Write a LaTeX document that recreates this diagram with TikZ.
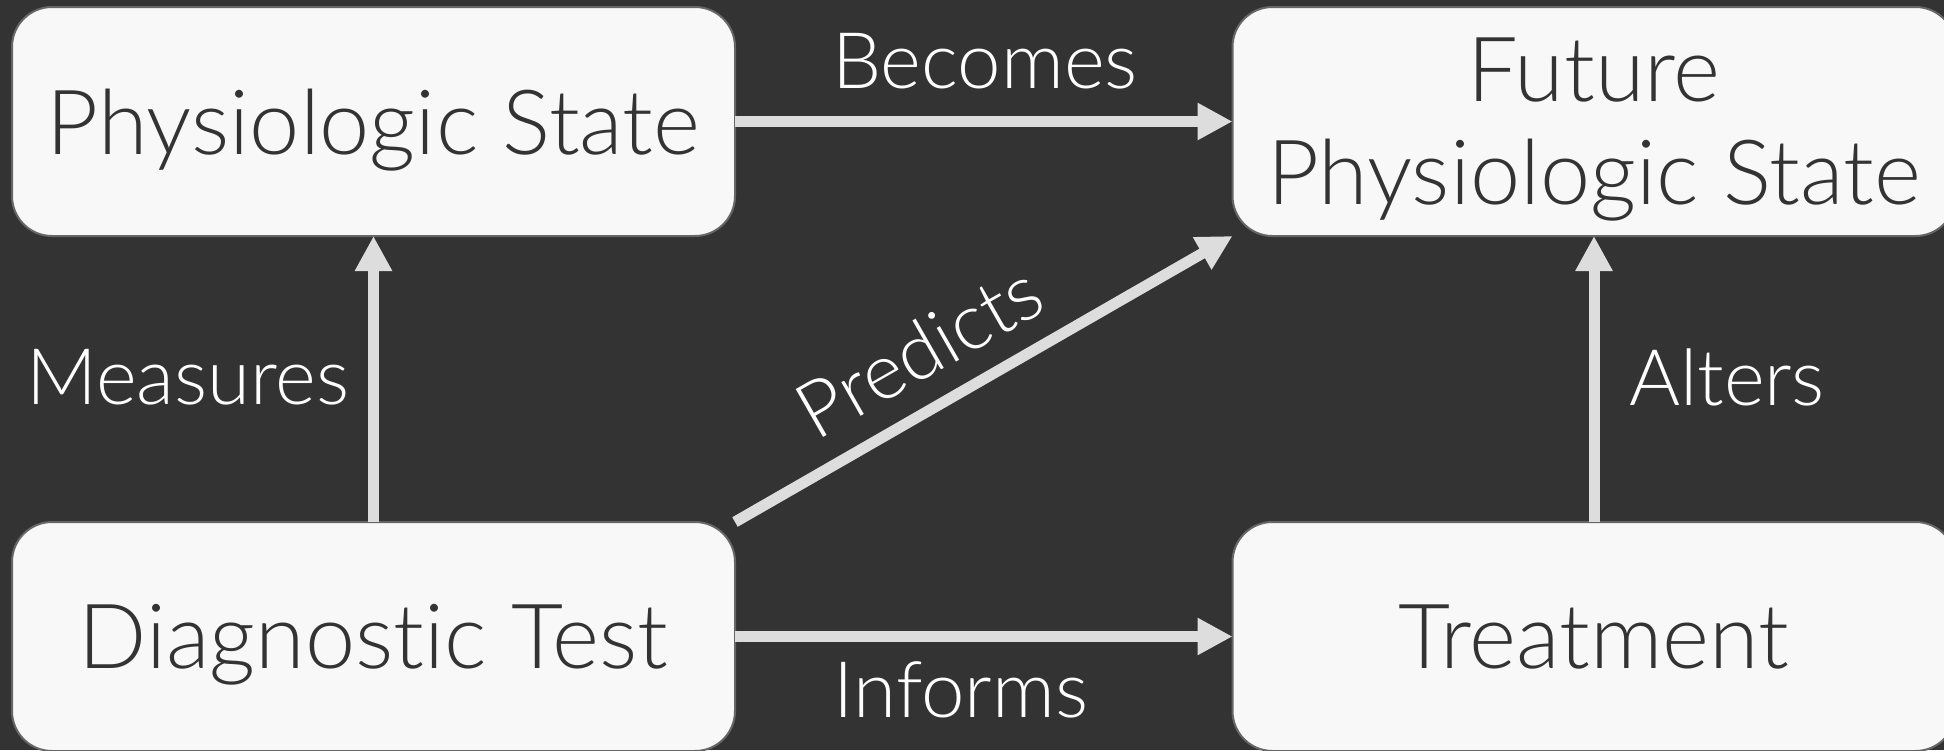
\documentclass[tikz,border=0pt]{standalone}
\usepackage{fontspec}
\setmainfont{Lato Light}[Ligatures=NoCommon]
\usetikzlibrary{arrows.meta}
\definecolor{bg}{HTML}{333333}
\definecolor{boxfill}{HTML}{F8F8F8}
\definecolor{boxline}{HTML}{666666}
\definecolor{boxtext}{HTML}{333333}
\definecolor{arrowc}{HTML}{DDDDDD}
\tikzset{
  statebox/.style={draw=boxline, line width=2pt, fill=boxfill, rounded corners=40pt,
    minimum width=723pt, minimum height=229pt, inner sep=0pt, outer sep=0pt,
    text=boxtext, align=center, text depth=0pt, font=\fontsize{90}{103}\selectfont},
  conn/.style={draw=arrowc, line width=11pt, -{Triangle[length=35pt,width=35pt]}},
  lbl/.style={text=white, font=\fontsize{78}{90}\selectfont, inner sep=0pt, anchor=base}
}
\begin{document}
\begin{tikzpicture}[x=1pt,y=-1pt]
\fill[bg] (0,0) rectangle (1944,750);
\useasboundingbox (0,0) rectangle (1944,750);
\clip (0,0) rectangle (1944,750);
\node[statebox] (ps) at (373.5,121.5) {Physiologic State};
\node[statebox] (fps) at (1594,121.5) {Future\\Physiologic State};
\node[statebox] (dt) at (373.5,636.5) {Diagnostic Test};
\node[statebox] (tr) at (1594,636.5) {Treatment};
\draw[conn] (ps.east) -- (fps.west);
\draw[conn] (dt.north) -- (ps.south);
\draw[conn] (tr.north) -- (fps.south);
\draw[conn] (dt.east) -- (tr.west);
\draw[conn] (dt.north east) -- (fps.south west);
\node[lbl] (becomes) at (985,88) {Becomes};
\node[lbl] (informs) at (961,717) {Informs};
\node[lbl] (measures) at (188,404) {Measures};
\node[lbl] (alters) at (1727,405) {Alters};
\node[lbl, rotate=29.75] (predicts) at (933,375) {Predicts};
\end{tikzpicture}
\end{document}
